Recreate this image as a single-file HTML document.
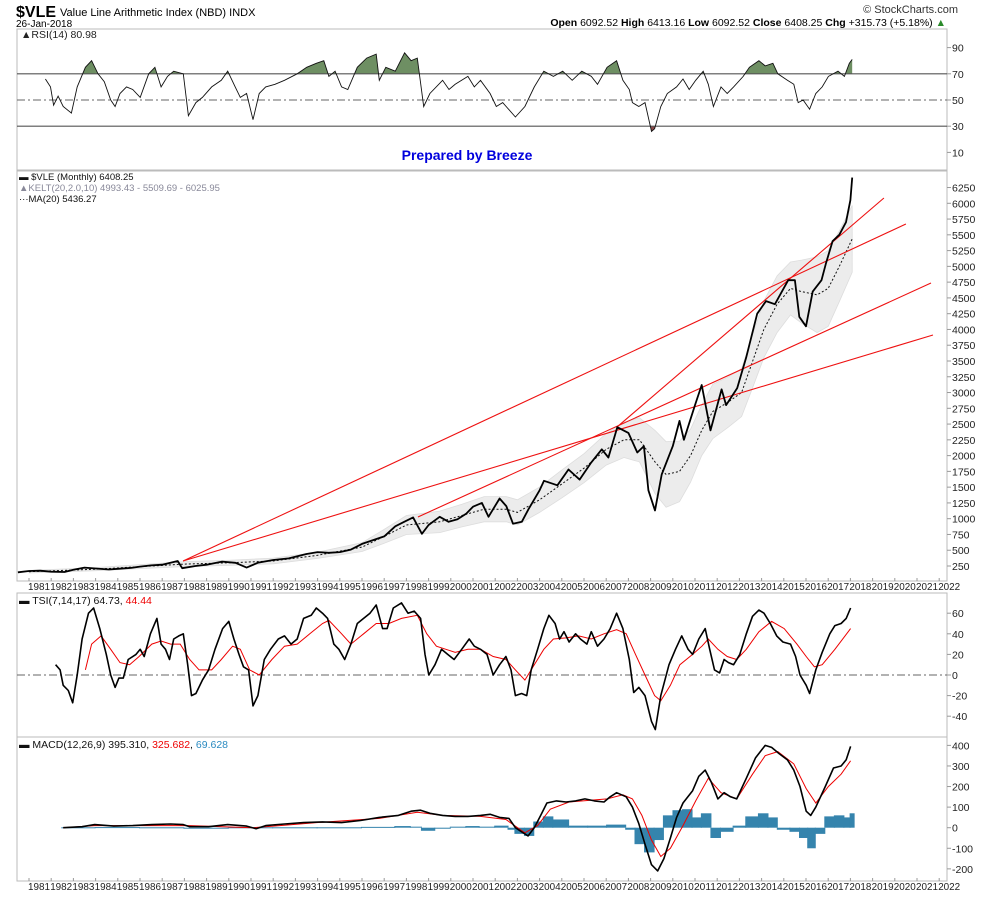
<!DOCTYPE html>
<html><head><meta charset="utf-8"><style>
body{margin:0;background:#fff;}
svg{display:block;font-family:"Liberation Sans",sans-serif;}
</style></head><body>
<svg id="c" width="990" height="897" viewBox="0 0 990 897" xmlns="http://www.w3.org/2000/svg">
<text x="16" y="17" font-size="16" font-weight="bold">$VLE</text>
<text x="60" y="16" font-size="11">Value Line Arithmetic Index (NBD) INDX</text>
<text x="16" y="27" font-size="10">26-Jan-2018</text>
<text x="958" y="13" font-size="11" text-anchor="end" fill="#333">© StockCharts.com</text>
<text x="946" y="26" font-size="10.5" text-anchor="end"><tspan font-weight="bold">Open</tspan> 6092.52 <tspan font-weight="bold">High</tspan> 6413.16 <tspan font-weight="bold">Low</tspan> 6092.52 <tspan font-weight="bold">Close</tspan> 6408.25 <tspan font-weight="bold">Chg</tspan> +315.73 (+5.18%) <tspan fill="#2a8a2a">▲</tspan></text>
<g id="panels"></g>
<text x="467" y="160" font-size="14" font-weight="bold" fill="#0000dd" text-anchor="middle">Prepared by Breeze</text>
</svg>
<script>
const years = [];
for (let y = 1981; y <= 2022; y++) years.push(y);

const priceDates = [1980.5,1981,1981.5,1982,1982.6,1983,1983.5,1984,1984.6,1985,1985.6,1986,1986.5,1987,1987.7,1987.9,1988.5,1989,1989.7,1990.3,1990.8,1991.3,1992,1992.7,1993.5,1994,1994.5,1995,1995.5,1996,1996.5,1997,1997.5,1997.9,1998.3,1998.7,1999,1999.5,1999.9,2000.3,2000.7,2001,2001.4,2001.7,2002.2,2002.5,2002.8,2003.2,2003.5,2004,2004.2,2004.8,2005.3,2005.8,2006.3,2006.8,2007.1,2007.5,2008,2008.4,2008.7,2008.9,2009.2,2009.5,2010,2010.3,2010.5,2011,2011.3,2011.7,2012.2,2012.4,2012.9,2013.3,2013.8,2014.2,2014.6,2015.2,2015.5,2015.7,2016,2016.3,2016.7,2016.9,2017.2,2017.5,2017.8,2018.0,2018.08];
const priceValues = [150,170,175,160,155,190,225,210,195,205,220,240,260,270,330,215,250,270,320,300,225,300,345,370,440,470,460,470,510,600,660,720,880,950,1020,760,900,1030,950,990,1080,1190,1250,1030,1320,1200,920,950,1150,1450,1600,1530,1780,1620,1880,2100,1970,2450,2360,2050,2150,1450,1130,1700,2150,2550,2250,2800,3120,2400,3050,2800,3070,3550,4250,4450,4400,4780,4780,4200,4050,4600,4780,5050,5400,5500,5700,6050,6408];

const maDates = [1981,1984,1987,1988,1990,1992,1994,1996,1997,1998,1999.5,2000.5,2001.5,2002.5,2003,2004,2005,2006,2007,2007.8,2008.5,2009.2,2009.7,2010.3,2010.8,2011.3,2011.8,2012.5,2013.1,2013.6,2014.1,2014.7,2015.3,2015.8,2016.5,2017,2017.5,2018.08];
const maValues = [160,200,260,280,300,330,420,550,720,900,950,1050,1150,1150,1100,1300,1550,1800,2100,2250,2250,1900,1700,1750,2000,2400,2700,2850,3000,3500,4000,4400,4650,4600,4550,4650,5000,5436];
const keltHalf = [20,25,35,40,40,45,50,70,110,150,170,180,200,200,200,200,220,230,250,280,350,500,520,480,420,400,430,400,380,420,450,450,420,500,600,600,560,530];

const trendStartDates = [1987.94,1987.94,1998.52,2007.49];
const trendStartValues = [329,329,1027,2454];
const trendEndDates = [2020.5,2021.72,2021.63,2019.51];
const trendEndValues = [5672,3912,4736,6084];

const priceTicks = [250,500,750,1000,1250,1500,1750,2000,2250,2500,2750,3000,3250,3500,3750,4000,4250,4500,4750,5000,5250,5500,5750,6000,6250];

const rsiDates = [1981.74,1981.97,1982.11,1982.31,1982.54,1982.91,1983.17,1983.54,1983.82,1984.11,1984.39,1984.68,1984.88,1985.1,1985.39,1985.67,1986.01,1986.39,1986.67,1986.95,1987.24,1987.52,1987.95,1988.18,1988.52,1988.81,1989.23,1989.66,1989.95,1990.29,1990.52,1990.8,1991.09,1991.37,1991.66,1992.08,1992.51,1993.08,1993.51,1993.94,1994.28,1994.51,1994.79,1995.08,1995.36,1995.79,1996.21,1996.64,1996.78,1997.07,1997.5,1997.92,1998.21,1998.49,1998.78,1999.06,1999.63,1999.92,2000.2,2000.77,2001.06,2001.34,2001.77,2002.05,2002.34,2002.91,2003.34,2003.76,2004.19,2004.62,2005.04,2005.47,2005.9,2006.33,2006.61,2007.04,2007.47,2007.75,2008.04,2008.18,2008.47,2008.75,2009.04,2009.18,2009.46,2009.75,2010.17,2010.46,2010.74,2011.03,2011.37,2011.6,2011.83,2012.17,2012.45,2012.74,2013.17,2013.45,2013.88,2014.16,2014.51,2014.73,2015.16,2015.45,2015.65,2015.87,2016.16,2016.44,2016.73,2017.01,2017.44,2017.73,2017.95,2018.08];
const rsiValues = [66,60,46,53,45,40,60,75,80,70,64,50,45,55,60,58,52,70,75,60,68,72,70,38,48,52,60,65,72,60,52,55,35,55,60,62,65,70,75,78,80,68,72,60,58,75,82,85,65,75,72,86,80,82,45,55,65,58,62,68,60,65,55,45,48,37,45,60,72,68,72,65,72,68,62,75,80,65,58,48,45,48,26,28,45,55,60,66,58,65,72,62,45,60,55,60,68,75,80,76,78,70,65,62,48,50,43,55,60,68,72,68,78,81];
const rsiTicks = [10,30,50,70,90];

const tsiDates = [1982.2,1982.4,1982.54,1982.77,1982.97,1983.17,1983.39,1983.68,1983.91,1984.19,1984.48,1984.68,1984.88,1985.05,1985.25,1985.47,1985.82,1986.01,1986.19,1986.47,1986.76,1986.95,1987.15,1987.33,1987.52,1987.75,1987.95,1988.15,1988.32,1988.52,1988.81,1989.09,1989.38,1989.72,1990.0,1990.23,1990.46,1990.66,1990.89,1991.09,1991.31,1991.6,1991.88,1992.23,1992.51,1992.8,1993.08,1993.37,1993.71,1993.94,1994.22,1994.45,1994.73,1994.96,1995.22,1995.5,1995.79,1996.07,1996.36,1996.64,1996.93,1997.13,1997.41,1997.78,1998.07,1998.35,1998.64,1998.84,1999.01,1999.29,1999.58,1999.86,2000.15,2000.49,2000.83,2001.06,2001.34,2001.63,2001.91,2002.2,2002.48,2002.71,2002.91,2003.19,2003.42,2003.62,2003.91,2004.19,2004.42,2004.7,2004.9,2005.1,2005.33,2005.62,2005.84,2006.13,2006.33,2006.61,2006.9,2007.18,2007.47,2007.75,2008.04,2008.24,2008.47,2008.75,2009.04,2009.21,2009.46,2009.83,2010.12,2010.4,2010.69,2010.89,2011.17,2011.46,2011.66,2011.88,2012.11,2012.31,2012.51,2012.74,2013.02,2013.31,2013.59,2013.88,2014.11,2014.39,2014.68,2014.96,2015.3,2015.53,2015.73,2016.01,2016.16,2016.44,2016.73,2017.07,2017.3,2017.58,2017.81,2018.01];
const tsiValues = [10,5,-10,-15,-27,0,35,60,65,45,20,0,-12,-3,-3,15,20,25,18,40,55,30,25,15,35,38,40,10,-20,-18,-5,5,25,45,52,35,20,8,5,-30,-20,15,25,35,38,30,35,55,58,65,60,55,30,25,15,30,50,55,60,68,45,45,65,70,60,62,55,20,0,10,25,20,15,25,35,28,25,20,0,10,18,5,-20,-18,-20,5,25,45,58,50,35,42,32,40,35,30,42,28,35,45,60,45,15,-17,-12,-20,-45,-53,-20,10,25,38,25,20,35,45,25,5,2,15,12,10,20,40,57,63,60,50,38,32,30,18,0,-10,-18,5,22,40,48,50,55,65];
const tsiSigDates = [1983.54,1983.82,1984.25,1984.68,1985.1,1985.53,1985.96,1986.53,1986.95,1987.38,1987.81,1988.24,1988.66,1989.23,1989.66,1990.17,1990.52,1990.94,1991.37,1991.94,1992.51,1993.08,1993.65,1994.22,1994.51,1995.08,1995.5,1996.07,1996.64,1997.21,1997.78,1998.49,1998.92,1999.35,1999.78,2000.2,2000.77,2001.34,2001.91,2002.48,2002.91,2003.34,2003.76,2004.19,2004.62,2005.19,2005.76,2006.33,2006.9,2007.47,2007.9,2008.32,2008.75,2009.18,2009.46,2009.89,2010.32,2010.89,2011.31,2011.6,2012.03,2012.45,2012.88,2013.31,2013.88,2014.45,2015.02,2015.59,2016.01,2016.38,2016.73,2017.3,2018.01];
const tsiSigValues = [5,30,38,25,12,10,18,30,33,30,30,15,5,5,15,28,25,5,0,15,28,30,40,50,53,40,30,40,50,50,55,58,40,28,25,22,25,25,18,15,5,-5,10,25,35,36,38,35,40,44,40,20,0,-20,-25,-10,10,20,28,35,25,18,15,25,42,52,45,30,18,8,10,25,45];
const tsiTicks = [-40,-20,0,20,40,60];

const macdDates = [1982.54,1983.39,1983.96,1984.82,1985.67,1986.53,1987.38,1987.95,1988.24,1989.09,1989.95,1990.8,1991.23,1991.66,1992.51,1993.37,1994.22,1995.08,1995.93,1996.78,1997.64,1998.21,1998.64,1999.06,1999.63,2000.2,2000.77,2001.34,2001.77,2002.2,2002.62,2002.91,2003.19,2003.48,2003.76,2004.05,2004.33,2004.76,2005.19,2005.62,2006.04,2006.47,2006.9,2007.18,2007.47,2007.9,2008.18,2008.47,2008.75,2009.04,2009.32,2009.6,2009.89,2010.17,2010.46,2010.89,2011.17,2011.46,2011.74,2012.03,2012.31,2012.6,2012.88,2013.31,2013.73,2014.16,2014.45,2014.79,2015.16,2015.45,2015.73,2016.01,2016.21,2016.44,2016.87,2017.24,2017.58,2017.81,2018.01];
const macdValues = [0,5,15,8,10,15,18,15,5,5,15,8,-5,10,18,25,28,25,35,50,60,80,85,70,60,55,55,60,65,50,45,0,-20,-40,0,60,120,130,125,130,140,130,125,150,170,150,100,20,-80,-180,-210,-150,-50,50,120,180,250,280,220,140,170,150,140,240,340,400,390,360,330,280,200,80,60,100,200,290,300,330,395];
const macdSigDates = [1982.54,1983.96,1985.39,1988.24,1991.09,1992.51,1993.94,1996.78,1998.49,1999.63,2001.34,2002.48,2003.34,2003.91,2004.48,2005.33,2007.04,2007.75,2008.18,2008.61,2009.04,2009.46,2009.89,2010.46,2011.03,2011.6,2012.17,2012.88,2013.59,2014.16,2014.73,2015.45,2016.01,2016.44,2017.01,2017.58,2018.01];
const macdSigValues = [0,10,10,10,0,12,25,45,75,60,55,40,-25,10,90,125,140,160,140,60,-60,-140,-100,10,130,240,170,140,260,350,370,310,190,120,200,260,325];
const histDates = [1982.5,1984,1986,1988,1990,1992,1994,1996,1997.5,1998.2,1998.7,1999.3,2000,2000.7,2001.3,2002,2002.6,2002.91,2003.34,2003.76,2004.19,2004.62,2005.33,2006.19,2007.04,2007.9,2008.32,2008.75,2009.18,2009.6,2010.03,2010.46,2010.89,2011.31,2011.74,2012.17,2012.74,2013.31,2013.88,2014.31,2014.73,2015.3,2015.73,2016.1,2016.44,2016.87,2017.3,2017.73,2018.01];
const histValues = [2,3,2,-3,2,2,2,4,8,5,-15,-5,5,8,5,10,-10,-30,-40,30,55,40,10,10,15,-10,-80,-120,-60,60,85,90,50,70,-50,-20,10,55,70,50,-10,-20,-50,-100,-30,55,60,50,70];
const macdTicks = [-200,-100,0,100,200,300,400];

const NS = 'http://www.w3.org/2000/svg';
const root = document.getElementById('panels');
function mk(tag, attrs, parent) {
  const e = document.createElementNS(NS, tag);
  for (const k in attrs) e.setAttribute(k, attrs[k]);
  (parent || root).appendChild(e);
  return e;
}
const L = 17, R = 947;
function X(t) { return 29 + (t - 1981) * 22.2; }
function yPrice(v) { return 566 - (v - 250) * 0.06308; }
function yRsi(v) { return 100 - (v - 50) * 1.31; }
function yTsi(v) { return 675 - v * 1.03; }
function yMacd(v) { return 827.7 - v * 0.2058; }
function pts(ds, vs, fy) { return ds.map((d, i) => X(d).toFixed(1) + ',' + fy(vs[i]).toFixed(1)).join(' '); }

function frame(y0, y1, name) {
  const r = mk('rect', {x: L, y: y0, width: R - L, height: y1 - y0, fill: 'none', stroke: '#bbb', 'stroke-width': 1});
  
  
}
function yticks(ticks, fy, name) {
  const g = mk('g', {'font-size': 10.5, fill: '#222'});
  
  
  ticks.forEach(v => {
    mk('line', {x1: R, x2: R + 4, y1: fy(v), y2: fy(v), stroke: '#999'}, g);
    const t = mk('text', {x: R + 5, y: fy(v) + 4}, g);
    t.textContent = v;
  });
}
function xlabels(yy, name) {
  const g = mk('g', {'font-size': 10, fill: '#222'});
  
  
  years.forEach(y => {
    mk('line', {x1: X(y), x2: X(y), y1: yy - 12, y2: yy - 9, stroke: '#999'}, g);
    const t = mk('text', {x: X(y) - 1, y: yy, textLength: 22, lengthAdjust: 'spacingAndGlyphs'}, g);
    t.textContent = y;
  });
}

/* RSI panel */
frame(29, 170, 'rsi-panel');
const clipA = mk('clipPath', {id: 'above70'}); mk('rect', {x: L, y: 29, width: R - L, height: yRsi(70) - 29}, clipA);
const clipB = mk('clipPath', {id: 'below30'}); mk('rect', {x: L, y: yRsi(30), width: R - L, height: 170 - yRsi(30)}, clipB);
const rsiPts = pts(rsiDates, rsiValues, yRsi);
const areaPts = X(rsiDates[0]) + ',' + yRsi(70) + ' ' + rsiPts + ' ' + X(rsiDates[rsiDates.length - 1]) + ',' + yRsi(70);
const fa = mk('polygon', {points: areaPts, fill: '#6e8f63', 'clip-path': 'url(#above70)'});


const areaPts2 = X(rsiDates[0]) + ',' + yRsi(30) + ' ' + rsiPts + ' ' + X(rsiDates[rsiDates.length - 1]) + ',' + yRsi(30);
const fb = mk('polygon', {points: areaPts2, fill: '#8a4a4a', 'clip-path': 'url(#below30)'});


[70, 30].forEach(v => {
  const l = mk('line', {x1: L, x2: R, y1: yRsi(v), y2: yRsi(v), stroke: '#555', 'stroke-width': 1.2});
  
  
});
const l50 = mk('line', {x1: L, x2: R, y1: yRsi(50), y2: yRsi(50), stroke: '#666', 'stroke-dasharray': '8,3,2,3'});


const rl = mk('polyline', {points: rsiPts, fill: 'none', stroke: '#111', 'stroke-width': 0.9});


yticks(rsiTicks, yRsi, 'rsi-y-axis');
const rt = mk('text', {x: 21, y: 38, 'font-size': 10.5, fill: '#222'});


rt.textContent = '▲RSI(14) 80.98';

/* Main price panel */
frame(171, 581, 'price-panel');
const upper = maDates.map((d, i) => X(d).toFixed(1) + ',' + yPrice(maValues[i] + keltHalf[i]).toFixed(1));
const lower = maDates.map((d, i) => X(d).toFixed(1) + ',' + yPrice(maValues[i] - keltHalf[i]).toFixed(1)).reverse();
const kb = mk('polygon', {points: upper.concat(lower).join(' '), fill: '#ececec', stroke: '#ddd', 'stroke-width': 0.8});


const ma = mk('polyline', {points: pts(maDates, maValues, yPrice), fill: 'none', stroke: '#111', 'stroke-width': 1, 'stroke-dasharray': '2,2'});


trendStartDates.forEach((d, i) => {
  const tl = mk('line', {x1: X(d), y1: yPrice(trendStartValues[i]), x2: X(trendEndDates[i]), y2: yPrice(trendEndValues[i]), stroke: '#ee1111', 'stroke-width': 1.1});
  
  
});
const pl = mk('polyline', {points: pts(priceDates, priceValues, yPrice), fill: 'none', stroke: '#000', 'stroke-width': 1.8, 'stroke-linejoin': 'round'});


yticks(priceTicks, yPrice, 'price-y-axis');
const lg = mk('g', {'font-size': 9.5});


const t1 = mk('text', {x: 19, y: 180, fill: '#111'}, lg); t1.textContent = '▬ $VLE (Monthly) 6408.25';
const t2 = mk('text', {x: 19, y: 191, fill: '#889'}, lg); t2.textContent = '▲KELT(20,2.0,10) 4993.43 - 5509.69 - 6025.95';
const t3 = mk('text', {x: 19, y: 202, fill: '#111'}, lg); t3.textContent = '···MA(20) 5436.27';
xlabels(590, 'price-x-axis');

/* TSI panel */
frame(593, 737, 'tsi-panel');
const z0 = mk('line', {x1: L, x2: R, y1: yTsi(0), y2: yTsi(0), stroke: '#666', 'stroke-dasharray': '8,3,2,3'});


const ts = mk('polyline', {points: pts(tsiSigDates, tsiSigValues, yTsi), fill: 'none', stroke: '#e00', 'stroke-width': 1});


const tl2 = mk('polyline', {points: pts(tsiDates, tsiValues, yTsi), fill: 'none', stroke: '#000', 'stroke-width': 1.6, 'stroke-linejoin': 'round'});


yticks(tsiTicks, yTsi, 'tsi-y-axis');
const tt = mk('text', {x: 19, y: 604, 'font-size': 10.5, fill: '#111'});


tt.innerHTML = '▬ TSI(7,14,17) 64.73, <tspan fill="#e00">44.44</tspan>';

/* MACD panel */
frame(737, 881, 'macd-panel');
const hg = mk('g', {fill: '#3584ad'});


histDates.forEach((d, i) => {
  const v = histValues[i];
  const nx = i < histDates.length - 1 ? X(histDates[i + 1]) : X(d) + 4;
  const b = mk('rect', {x: X(d) - 1, width: Math.max(2, nx - X(d) + 1), y: Math.min(yMacd(v), yMacd(0)), height: Math.max(1, Math.abs(yMacd(v) - yMacd(0)))}, hg);
  
  
});
const ms = mk('polyline', {points: pts(macdSigDates, macdSigValues, yMacd), fill: 'none', stroke: '#e00', 'stroke-width': 1});


const ml = mk('polyline', {points: pts(macdDates, macdValues, yMacd), fill: 'none', stroke: '#000', 'stroke-width': 1.6, 'stroke-linejoin': 'round'});


yticks(macdTicks, yMacd, 'macd-y-axis');
const mt = mk('text', {x: 19, y: 748, 'font-size': 10.5, fill: '#111'});


mt.innerHTML = '▬ MACD(12,26,9) 395.310, <tspan fill="#e00">325.682</tspan>, <tspan fill="#2a8ac0">69.628</tspan>';
xlabels(890, 'macd-x-axis');
</script>
</body></html>
